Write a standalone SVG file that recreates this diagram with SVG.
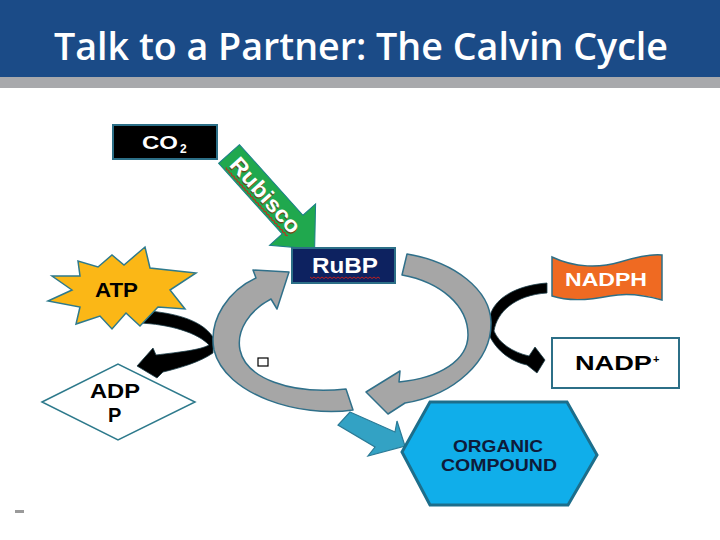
<svg xmlns="http://www.w3.org/2000/svg" width="720" height="540" viewBox="0 0 720 540">
<defs>
<style>
.lbl{font-family:"Liberation Sans",Arial,sans-serif;font-weight:bold}
.ring{fill:#a6a6a6;stroke:#30708a;stroke-width:1.5;stroke-linejoin:round}
.blk{fill:#000;stroke:#1d3f4a;stroke-width:0.8}
.edge{stroke:#2c6f87;stroke-width:2}
.wavy{fill:none;stroke:#d0201a;stroke-width:0.9}
</style>
</defs>
<rect width="720" height="540" fill="#ffffff"/>
<g id="header">
<rect x="0" y="0" width="720" height="77" fill="#1b4b87"/>
<rect x="0" y="77" width="720" height="11" fill="#a8a9ac"/>
<text x="54" y="60" font-family="'Open Sans',sans-serif" font-weight="600" font-size="38" fill="#ffffff" textLength="614" lengthAdjust="spacingAndGlyphs">Talk to a Partner: The Calvin Cycle</text>
</g>
<g id="connectors">
<g id="rubisco-arrow" transform="translate(229,154) rotate(48)">
<polygon points="0,-14 95,-14 95,-31 128,0 95,31 95,14 0,14" fill="#20a84e" stroke="#1c7f8a" stroke-width="1"/>
<text class="lbl" x="9" y="9" font-size="22" fill="#6b4a18" textLength="94" lengthAdjust="spacingAndGlyphs">Rubisco</text>
<text class="lbl" x="8" y="8" font-size="22" fill="#ffffff" textLength="94" lengthAdjust="spacingAndGlyphs">Rubisco</text>
<polyline class="wavy" points="8,11 10,12.5 12,11 14,12.5 16,11 18,12.5 20,11 22,12.5 24,11 26,12.5 28,11 30,12.5 32,11 34,12.5 36,11 38,12.5 40,11 42,12.5 44,11 46,12.5 48,11 50,12.5 52,11 54,12.5 56,11 58,12.5 60,11 62,12.5 64,11 66,12.5 68,11 70,12.5 72,11 74,12.5 76,11 78,12.5 80,11 82,12.5 84,11 86,12.5 88,11 90,12.5 92,11 94,12.5 96,11 98,12.5 100,11"/>
</g>
<path id="atp-arrow" class="blk" d="M137,310 C170,312 200,318 213,337 L213,353 C200,362 180,368 163,372 L157,378 L137,366 L153,348 L156,355 C180,352 200,350 209,345 C198,333 170,324 138,323 Z"/>
<path id="nadph-arrow" class="blk" d="M547,283 C520,285 495,296 490,316 L490,337 C498,352 512,362 527,365 L537,373 L545,360 L535,347 L529,356 C512,352 499,343 494,331 C497,312 515,295 547,293 Z"/>
<polygon id="product-arrow" points="350,412 395,432 397,421 405,446 368,456 375,447 338,425" fill="#33a2c4" stroke="#2a7a96" stroke-width="1.2"/>
<path id="cycle-left" class="ring" d="M353,410 C300,418 225,395 214,350 C208,318 230,290 256,278 L253,270 L289,272 L277,309 L271,299 C250,310 236,330 240,350 C246,378 290,395 346,389 Z"/>
<path id="cycle-right" class="ring" d="M407,254 C455,262 490,290 491,322 C492,360 455,395 405,403 L388,414 L366,392 L400,371 L399,382 C440,378 468,360 468,335 C468,305 440,282 402,275 Z"/>
</g>
<g id="co2">
<rect x="113" y="125" width="104" height="34" fill="#000000" class="edge"/>
<text class="lbl" x="142" y="149" font-size="19" fill="#ffffff" textLength="36" lengthAdjust="spacingAndGlyphs">CO</text>
<text class="lbl" x="180" y="153" font-size="12" fill="#ffffff">2</text>
</g>
<g id="rubp">
<rect x="292" y="248" width="103" height="35" fill="#0d2260" class="edge"/>
<text class="lbl" x="312" y="273" font-size="22" fill="#ffffff" textLength="66" lengthAdjust="spacingAndGlyphs">RuBP</text>
<polyline class="wavy" points="310,277 312,278.5 314,277 316,278.5 318,277 320,278.5 322,277 324,278.5 326,277 328,278.5 330,277 332,278.5 334,277 336,278.5 338,277 340,278.5 342,277 344,278.5 346,277 348,278.5 350,277 352,278.5 354,277 356,278.5 358,277 360,278.5 362,277 364,278.5 366,277 368,278.5 370,277 372,278.5 374,277 376,278.5 378,277 380,278.5"/>
</g>
<g id="atp">
<polygon points="48,301 72,290 52,276 80,276 78,261 98,267 112,255 124,265 145,247 150,268 196,273 170,290 185,309 158,307 140,326 126,313 112,329 100,316 76,324 80,307" fill="#fbb716" stroke="#2e7a8c" stroke-width="1.5" stroke-linejoin="miter"/>
<text class="lbl" x="95" y="297" font-size="20" fill="#000000" textLength="43" lengthAdjust="spacingAndGlyphs">ATP</text>
</g>
<g id="adp">
<polygon points="42,402 118,364 195,402 118,440" fill="#ffffff" stroke="#2e7a8c" stroke-width="1.5"/>
<text class="lbl" x="90" y="398" font-size="20" fill="#000000" textLength="50" lengthAdjust="spacingAndGlyphs">ADP</text>
<text class="lbl" x="108" y="422" font-size="20" fill="#000000">P</text>
</g>
<g id="nadph">
<path d="M552,257 C575,268 600,268 620,262 C640,256 652,254 662,255 L662,300 C648,296 630,292 610,296 C590,300 570,302 552,296 Z" fill="#ef6a22" stroke="#2e6f86" stroke-width="1.5"/>
<text class="lbl" x="565" y="286" font-size="18" fill="#ffffff" textLength="82" lengthAdjust="spacingAndGlyphs">NADPH</text>
</g>
<g id="nadp">
<rect x="552" y="338" width="127" height="50" fill="#ffffff" class="edge"/>
<text class="lbl" x="575" y="370" font-size="20" fill="#000000" textLength="77" lengthAdjust="spacingAndGlyphs">NADP</text>
<text class="lbl" x="653" y="363" font-size="11" fill="#000000">+</text>
</g>
<g id="organic">
<polygon points="430,402 567,402 597,455 568,505 430,505 402,452" fill="#10aeea" stroke="#1d6e8b" stroke-width="3" stroke-linejoin="miter"/>
<text class="lbl" x="453" y="452" font-size="17" fill="#0e1b3a" textLength="90" lengthAdjust="spacingAndGlyphs">ORGANIC</text>
<text class="lbl" x="441" y="471" font-size="17" fill="#0e1b3a" textLength="116" lengthAdjust="spacingAndGlyphs">COMPOUND</text>
</g>
<g id="marks">
<rect x="258" y="358" width="10" height="8" fill="#ffffff" stroke="#000000" stroke-width="1.2"/>
<rect x="15" y="510" width="9" height="3" fill="#9a9a9a"/>
</g>
</svg>
